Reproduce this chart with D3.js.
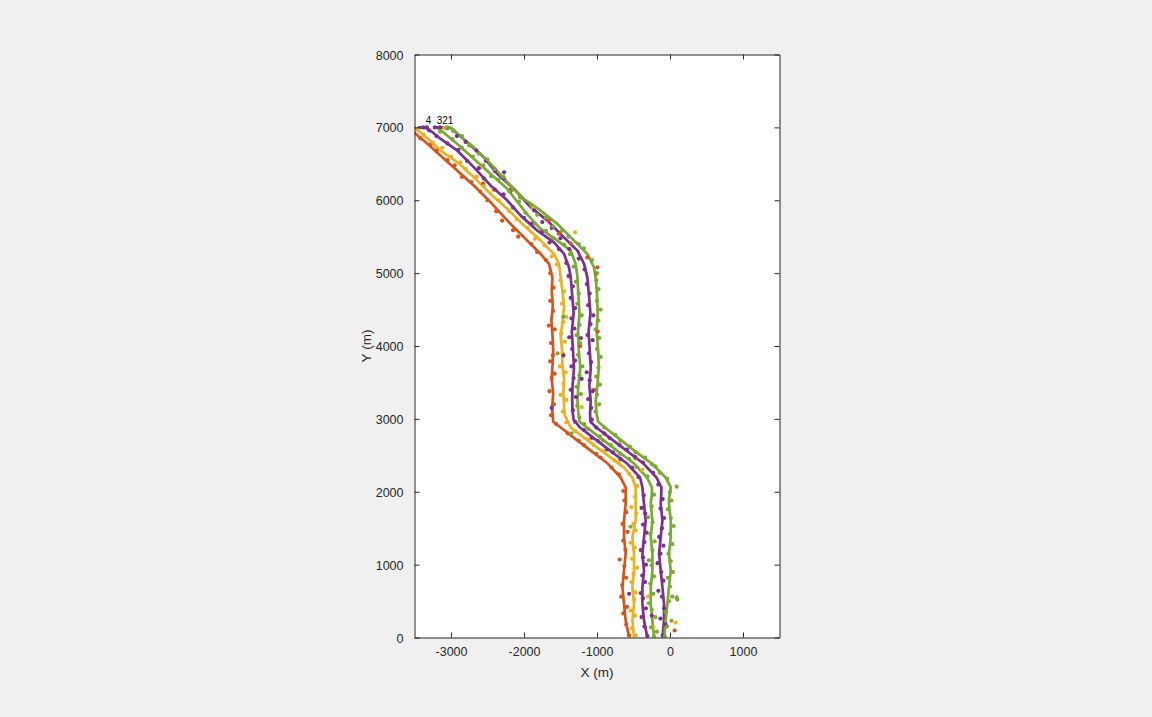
<!DOCTYPE html>
<html><head><meta charset="utf-8">
<script src="https://cdn.jsdelivr.net/npm/d3@7"></script>
<style>
html,body{margin:0;padding:0;background:#f0f0f0;}
svg{display:block;}
text{font-family:"Liberation Sans",Arial,Helvetica,sans-serif;fill:#262626;}
</style></head>
<body>
<script>
// ---------- data ----------
const xTicks = [-3000,-2000,-1000,0,1000];
const yTicks = [0,1000,2000,3000,4000,5000,6000,7000,8000];
const xLabel = "X (m)";
const yLabel = "Y (m)";
const laneLabels = ["4","3","2","1"];
const laneLabelX = [-3345,-3195,-3120,-3045];
const laneLabelY = 7092;

const lineOrange = [[-561,0],[-607,233],[-630,462],[-652,690],[-630,919],[-607,1148],[-630,1376],[-630,1605],[-607,1834],[-607,2058],[-675,2195],[-853,2387],[-1086,2565],[-1319,2743],[-1497,2881],[-1600,2960],[-1615,3150],[-1600,3350],[-1622,3550],[-1608,3750],[-1600,3950],[-1610,4150],[-1625,4350],[-1605,4550],[-1620,4750],[-1611,4942],[-1658,5126],[-1771,5263],[-2000,5491],[-2227,5720],[-2456,5971],[-2685,6200],[-2912,6406],[-3141,6612],[-3350,6800],[-3500,6925],[-3580,7000]];
const lineYellow = [[-493,0],[-515,233],[-493,462],[-515,690],[-493,919],[-493,1148],[-515,1376],[-470,1605],[-470,1834],[-470,2058],[-515,2195],[-630,2332],[-812,2469],[-995,2606],[-1178,2743],[-1360,2881],[-1440,3050],[-1450,3150],[-1460,3350],[-1451,3550],[-1474,3750],[-1480,3950],[-1497,4150],[-1470,4350],[-1450,4550],[-1474,4750],[-1497,4942],[-1521,5126],[-1589,5263],[-1771,5446],[-2000,5652],[-2227,5881],[-2456,6086],[-2685,6314],[-2912,6520],[-3141,6680],[-3300,6830],[-3500,7000]];
const linePurpleA = [[-310,0],[-356,233],[-378,462],[-378,690],[-356,919],[-378,1148],[-356,1376],[-333,1605],[-356,1834],[-378,2058],[-410,2195],[-588,2387],[-821,2565],[-1054,2743],[-1232,2881],[-1320,2990],[-1335,3100],[-1340,3250],[-1335,3450],[-1315,3700],[-1330,3950],[-1345,4200],[-1320,4450],[-1340,4700],[-1360,4942],[-1384,5080],[-1452,5263],[-1589,5422],[-1816,5583],[-2045,5789],[-2227,5995],[-2456,6200],[-2685,6451],[-2912,6680],[-3141,6841],[-3250,6930],[-3330,6990],[-3440,7000]];
const lineGreenA = [[-219,0],[-241,233],[-264,462],[-264,690],[-241,919],[-241,1148],[-264,1376],[-241,1605],[-264,1834],[-250,1950],[-247,2058],[-315,2195],[-493,2387],[-726,2565],[-959,2743],[-1137,2881],[-1240,2960],[-1255,3073],[-1268,3251],[-1255,3450],[-1230,3700],[-1250,3950],[-1260,4200],[-1240,4450],[-1255,4700],[-1268,4942],[-1292,5126],[-1360,5309],[-1542,5446],[-1771,5606],[-1950,5800],[-2100,5990],[-2227,6155],[-2456,6361],[-2685,6567],[-2912,6772],[-3141,6960],[-3200,7000]];
const linePurpleB = [[-104,0],[-82,233],[-82,462],[-104,690],[-127,919],[-150,1148],[-127,1376],[-104,1605],[-127,1834],[-120,1960],[-117,2058],[-185,2195],[-363,2387],[-596,2565],[-829,2743],[-1007,2881],[-1090,2960],[-1095,3073],[-1086,3251],[-1105,3450],[-1085,3700],[-1100,3950],[-1115,4200],[-1090,4450],[-1110,4700],[-1132,4942],[-1178,5126],[-1268,5309],[-1452,5491],[-1679,5720],[-1908,5903],[-2137,6155],[-2364,6361],[-2548,6588],[-2775,6794],[-3004,6995],[-3100,7000],[-3230,7000]];
const lineGreenB = [[-82,0],[-59,233],[-36,462],[-14,690],[10,919],[-14,1148],[10,1376],[10,1605],[-14,1834],[-14,1900],[10,2062],[-60,2195],[-250,2387],[-490,2565],[-715,2743],[-890,2881],[-985,2960],[-1010,3100],[-1018,3251],[-995,3450],[-975,3700],[-985,3950],[-1005,4200],[-990,4450],[-1000,4700],[-1018,4942],[-1041,5080],[-1132,5263],[-1315,5446],[-1542,5675],[-1771,5857],[-2000,6018],[-2227,6246],[-2456,6498],[-2685,6726],[-2912,6909],[-3000,6990],[-3100,7000]];

const dotsOrange = [[-560,30],[-600,180],[-640,330],[-590,420],[-670,560],[-655,720],[-600,820],[-625,980],[-690,1070],[-610,1200],[-640,1330],[-580,1450],[-650,1560],[-600,1720],[-625,1880],[-640,2010],[-700,2240],[-800,2330],[-950,2470],[-1010,2520],[-1180,2640],[-1250,2700],[-1400,2800],[-1560,2930],[-1630,3050],[-1590,3200],[-1650,3380],[-1620,3560],[-1580,3620],[-1640,3790],[-1605,3870],[-1630,4040],[-1580,4230],[-1660,4280],[-1600,4480],[-1640,4620],[-1595,4800],[-1640,5000],[-1700,5180],[-1820,5290],[-1900,5400],[-2080,5500],[-2150,5590],[-2300,5720],[-2380,5850],[-2500,6000],[-2600,6120],[-2720,6250],[-2850,6320],[-2950,6480],[-3050,6550],[-3200,6680],[-3280,6760],[-3420,6850],
  [-1360,5405],[-1132,5217],[-1010,4993],[-1660,5720],[-1525,5540],[-995,5080],[-1040,3400],[-990,4200],[64,96],[-470,2460],[-1230,4000],[-2180,6150],[-2560,6230]];
const dotsYellow = [[-470,30],[-520,130],[-480,300],[-540,370],[-490,520],[-470,620],[-530,760],[-500,870],[-450,960],[-520,1080],[-480,1230],[-540,1300],[-470,1470],[-500,1560],[-460,1700],[-530,1790],[-480,1930],[-450,2080],[-560,2250],[-700,2400],[-760,2430],[-900,2560],[-1050,2640],[-1120,2720],[-1300,2830],[-1420,2950],[-1470,3100],[-1420,3260],[-1500,3330],[-1460,3480],[-1430,3640],[-1510,3720],[-1470,3900],[-1440,4060],[-1490,4170],[-1460,4330],[-1420,4400],[-1480,4580],[-1450,4750],[-1500,4900],[-1550,5120],[-1620,5230],[-1720,5380],[-1850,5470],[-1950,5620],[-2100,5740],[-2200,5850],[-2350,6000],[-2420,6140],[-2550,6190],[-2650,6320],[-2800,6430],[-2870,6520],[-3000,6600],[-3120,6720],[-3250,6790],[-3380,6900],[-3460,6970],
  [78,205],[-1880,5900],[-1210,3160],[-300,560],[-1300,5560],[-2600,6450],[-3090,6990],[-230,140],[-380,2300]];
const dotsPurple = [[-310,20],[-350,150],[-390,280],[-330,400],[-370,540],[-400,610],[-340,760],[-380,850],[-330,1000],[-370,1100],[-400,1200],[-350,1310],[-320,1440],[-370,1550],[-340,1700],[-390,1780],[-360,1950],[-430,2200],[-520,2330],[-680,2450],[-780,2540],[-860,2580],[-990,2700],[-1070,2740],[-1180,2850],[-1300,2960],[-1330,3120],[-1290,3300],[-1360,3400],[-1320,3560],[-1350,3720],[-1300,3800],[-1340,3960],[-1380,4120],[-1310,4240],[-1350,4380],[-1300,4520],[-1360,4660],[-1330,4820],[-1390,4960],[-1420,5140],[-1520,5330],[-1650,5420],[-1760,5560],[-1900,5680],[-2000,5760],[-2150,5900],[-2280,6080],[-2400,6150],[-2550,6300],[-2620,6440],[-2780,6540],[-2900,6690],[-3050,6780],[-3200,6880],[-3300,6960],[-3380,7000],[-3330,7000],
  [-100,30],[-60,180],[-130,260],[-80,400],[-110,560],[-160,640],[-90,780],[-120,900],[-170,1020],[-130,1150],[-90,1260],[-150,1380],[-110,1500],[-80,1640],[-130,1770],[-100,1900],[-160,2100],[-230,2260],[-370,2400],[-480,2480],[-590,2580],[-690,2640],[-830,2740],[-900,2800],[-1010,2880],[-1070,2990],[-1080,3150],[-1120,3270],[-1060,3380],[-1100,3530],[-1140,3640],[-1080,3780],[-1110,3900],[-1060,4080],[-1130,4150],[-1090,4300],[-1050,4420],[-1120,4560],[-1100,4720],[-1140,4850],[-1170,5050],[-1250,5200],[-1380,5330],[-1500,5480],[-1620,5620],[-1750,5700],[-1860,5860],[-2050,6040],[-2180,6130],[-2280,6300],[-2400,6400],[-2520,6540],[-2650,6680],[-2800,6800],[-2920,6880],[-3050,6990],[-3150,7000],[-3220,7000],
  [-2274,6383],[-1220,4110],[-1460,3870],[-1210,3550],[-560,600],[-250,300],[-1620,3150]];
const dotsGreen = [[-220,20],[-260,140],[-200,280],[-250,380],[-290,470],[-230,600],[-270,740],[-220,840],[-250,990],[-290,1060],[-240,1200],[-210,1320],[-270,1420],[-240,1580],[-300,1650],[-250,1800],[-220,1960],[-310,2210],[-460,2340],[-560,2450],[-680,2520],[-810,2640],[-920,2700],[-960,2760],[-1120,2860],[-1175,2930],[-1240,3020],[-1270,3180],[-1220,3340],[-1280,3440],[-1240,3600],[-1200,3720],[-1260,3880],[-1230,4040],[-1280,4150],[-1240,4290],[-1210,4420],[-1270,4580],[-1250,4720],[-1290,4880],[-1320,5090],[-1370,5260],[-1450,5390],[-1600,5480],[-1700,5580],[-1850,5680],[-1980,5830],[-2070,5980],[-2200,6120],[-2350,6280],[-2450,6330],[-2560,6480],[-2700,6600],[-2850,6720],[-2980,6840],[-3150,6940],
  [-70,20],[-40,150],[20,230],[-60,350],[-10,500],[30,560],[0,700],[-30,820],[40,900],[10,1050],[-20,1150],[30,1280],[0,1420],[50,1530],[10,1640],[-30,1760],[20,1880],[0,2000],[-40,2180],[-140,2260],[-200,2350],[-250,2380],[-340,2470],[-470,2540],[-550,2620],[-680,2700],[-750,2780],[-900,2880],[-1020,3100],[-970,3200],[-1000,3330],[-960,3470],[-1010,3580],[-980,3700],[-950,3850],[-1000,3960],[-970,4110],[-1020,4230],[-980,4350],[-950,4500],[-1000,4620],[-980,4780],[-1010,4900],[-1000,5000],[-1070,5180],[-1180,5340],[-1250,5400],[-1390,5500],[-1480,5580],[-1600,5640],[-1700,5760],[-1820,5800],[-1900,5930],[-2050,6040],[-2150,6150],[-2280,6320],[-2400,6430],[-2500,6560],[-2620,6640],[-2750,6750],[-2850,6880],[-2970,6950],[-3050,7000],
  [92,2070],[90,550],[100,520],[-1540,3900],[-1350,2800],[-540,1520],[-180,80],[-1460,4400]];

const colors = {orange:"#D95319", yellow:"#EDB120", purple:"#7E2F8E", green:"#77AC30"};
const lineSeries = [
  {pts: lineOrange, c: colors.orange},
  {pts: lineYellow, c: colors.yellow},
  {pts: linePurpleA, c: colors.purple},
  {pts: lineGreenA, c: colors.green},
  {pts: linePurpleB, c: colors.purple},
  {pts: lineGreenB, c: colors.green}
];
const dotSeries = [
  {pts: dotsOrange, c: colors.orange},
  {pts: dotsYellow, c: colors.yellow},
  {pts: dotsPurple, c: colors.purple},
  {pts: dotsGreen, c: colors.green}
];

// ---------- layout ----------
const W = 1152, H = 717;
const L = 414.5, R = 779.5, T = 54.5, B = 637.5;
const x = d3.scaleLinear().domain([-3500,1500]).range([L,R]);
const y = d3.scaleLinear().domain([0,8000]).range([B,T]);
const axisColor = "#262626";
const fmt = d => String(d);

const svg = d3.select("body").append("svg").attr("width",W).attr("height",H);
svg.append("rect").attr("width",W).attr("height",H).attr("fill","#f0f0f0");
svg.append("rect").attr("x",L).attr("y",T).attr("width",R-L).attr("height",B-T).attr("fill","#fff");

svg.append("clipPath").attr("id","clip").append("rect")
  .attr("x",L).attr("y",T).attr("width",R-L).attr("height",B-T);
const plot = svg.append("g").attr("clip-path","url(#clip)");

const line = d3.line().x(d=>x(d[0])).y(d=>y(d[1]));
lineSeries.forEach(s=>{
  plot.append("path").datum(s.pts).attr("d",line)
    .attr("fill","none").attr("stroke",s.c).attr("stroke-width",2.7)
    .attr("stroke-linejoin","round").attr("stroke-linecap","round");
});
dotSeries.forEach(s=>{
  plot.selectAll(null).data(s.pts).enter().append("circle")
    .attr("cx",d=>x(d[0])).attr("cy",d=>y(d[1])).attr("r",2.1).attr("fill",s.c);
});

// axes with mirrored ticks (box on)
const tl = 5;
const axB = svg.append("g").attr("transform",`translate(0,${B})`)
  .call(d3.axisBottom(x).tickValues(xTicks).tickSizeInner(-tl).tickSizeOuter(0).tickPadding(10).tickFormat(fmt));
const axT = svg.append("g").attr("transform",`translate(0,${T})`)
  .call(d3.axisTop(x).tickValues(xTicks).tickSizeInner(-tl).tickSizeOuter(0).tickFormat(""));
const axL = svg.append("g").attr("transform",`translate(${L},0)`)
  .call(d3.axisLeft(y).tickValues(yTicks).tickSizeInner(-tl).tickSizeOuter(0).tickPadding(11).tickFormat(fmt));
const axR = svg.append("g").attr("transform",`translate(${R},0)`)
  .call(d3.axisRight(y).tickValues(yTicks).tickSizeInner(-tl).tickSizeOuter(0).tickFormat(""));
[axB,axT,axL,axR].forEach(a=>{
  a.select(".domain").attr("stroke",axisColor).attr("stroke-width",1);
  a.selectAll(".tick line").attr("stroke",axisColor).attr("stroke-width",1);
  a.selectAll(".tick text").attr("fill",axisColor).style("font-size","12.5px")
    .style("font-family",'"Liberation Sans",Arial,Helvetica,sans-serif');
});
axL.selectAll(".tick text").attr("dy","0.36em");

svg.append("text").attr("x",597).attr("y",677).attr("text-anchor","middle")
  .style("font-size","13.5px").text(xLabel);
svg.append("text").attr("transform","translate(371,346) rotate(-90)").attr("text-anchor","middle")
  .style("font-size","13.5px").text(yLabel);

// lane labels
laneLabels.forEach((t,i)=>{
  svg.append("text").attr("x",x(laneLabelX[i])).attr("y",y(laneLabelY)).attr("dy","0.35em")
    .style("font-size","10px").style("fill","#000").text(t);
});
</script>
</body></html>
